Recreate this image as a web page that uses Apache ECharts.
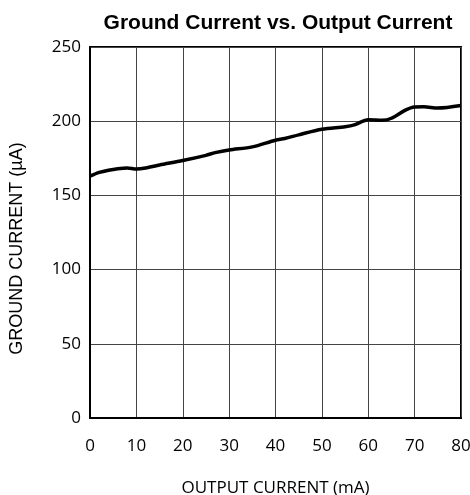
<!DOCTYPE html>
<html>
<head>
<meta charset="utf-8">
<script src="https://cdn.jsdelivr.net/npm/echarts@6/dist/echarts.min.js"></script>
<style>
  html, body { margin: 0; padding: 0; background: #fff; }
  #chart { width: 470px; height: 495px; }
</style>
</head>
<body>
<div id="chart"></div>
<script>
// Output current (mA) and measured ground current (µA)
const outputCurrent = [0, 2, 4, 6, 8, 10, 12, 15, 20, 25, 27, 30, 35, 40, 42, 45, 50, 55, 57, 60, 63, 65, 68, 70, 72, 75, 80];
const groundCurrent = [163, 165.5, 167, 168, 168.5, 167.8, 168.5, 170.5, 173.5, 177, 178.8, 180.6, 182.7, 187.2, 188.3, 190.8, 194.6, 196.3, 197.5, 201, 200.6, 202, 207.5, 209.6, 209.7, 208.9, 210.6];

const xTicks = [0, 10, 20, 30, 40, 50, 60, 70, 80];
const yTicks = [0, 50, 100, 150, 200, 250];

const titleText = 'Ground Current vs. Output Current';
const xName = 'OUTPUT CURRENT (mA)';
const yName = 'GROUND CURRENT (µA)';

const chart = echarts.init(document.getElementById('chart'), null, { renderer: 'canvas' });

const labelFont = '"Open Sans", "Liberation Sans", sans-serif';

chart.setOption({
  animation: false,
  backgroundColor: '#ffffff',
  title: {
    text: titleText,
    left: 273,
    textAlign: 'center',
    top: 8,
    textStyle: {
      fontFamily: '"Liberation Sans", Arial, sans-serif',
      fontWeight: 'bold',
      fontSize: 21,
      color: '#000'
    }
  },
  grid: {
    left: 90,
    right: 9,
    top: 47,
    bottom: 77,
    show: true,
    borderColor: '#000',
    borderWidth: 2,
    containLabel: false,
    outerBoundsMode: 'none'
  },
  xAxis: {
    type: 'value',
    min: xTicks[0],
    max: xTicks[xTicks.length - 1],
    interval: xTicks[1] - xTicks[0],
    name: xName,
    nameLocation: 'middle',
    nameGap: 62,
    nameTextStyle: { fontFamily: labelFont, fontSize: 17, color: '#000' },
    axisLine: { show: true, lineStyle: { color: '#000', width: 2 } },
    axisTick: { show: false },
    axisLabel: { margin: 20, fontFamily: labelFont, fontSize: 17, color: '#000' },
    splitLine: { show: true, lineStyle: { color: '#444', width: 1 } }
  },
  yAxis: {
    type: 'value',
    min: yTicks[0],
    max: yTicks[yTicks.length - 1],
    interval: yTicks[1] - yTicks[0],
    name: yName,
    nameLocation: 'middle',
    nameGap: 64,
    nameRotate: 90,
    nameTextStyle: {
      fontFamily: '"Liberation Sans", Arial, sans-serif',
      fontSize: 18,
      color: '#000',
      padding: [0, 32, 0, 0]
    },
    axisLine: { show: true, lineStyle: { color: '#000', width: 2 } },
    axisTick: { show: false },
    axisLabel: { margin: 9, fontFamily: labelFont, fontSize: 17, color: '#000' },
    splitLine: { show: true, lineStyle: { color: '#444', width: 1 } }
  },
  series: [{
    type: 'line',
    data: outputCurrent.map((x, i) => [x, groundCurrent[i]]),
    smooth: 0.3,
    showSymbol: false,
    lineStyle: { color: '#000', width: 3.5 },
    z: 5
  }]
});
</script>
</body>
</html>
